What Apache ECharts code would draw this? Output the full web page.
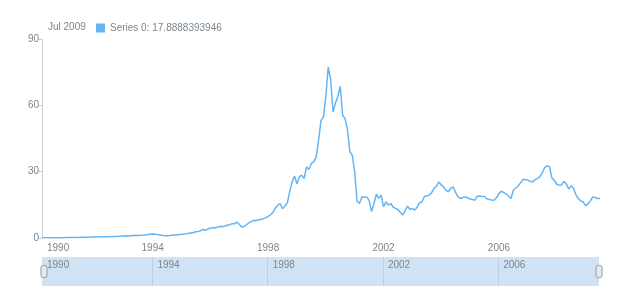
<!DOCTYPE html>
<html><head><meta charset="utf-8">
<script src="https://cdn.jsdelivr.net/npm/echarts@6/dist/echarts.min.js"></script>
<style>html,body{margin:0;padding:0;background:#fff}#c{width:620px;height:300px}</style>
</head><body><div id="c"></div>
<script>
const startYear = 1990, startMonth = 3;
const p1990 = [0.08,0.09,0.1,0.11,0.12,0.12,0.13,0.12,0.14,0.15];
const p1991 = [0.17,0.2,0.22,0.24,0.26,0.27,0.3,0.33,0.36,0.38,0.41,0.45];
const p1992 = [0.5,0.52,0.55,0.57,0.6,0.58,0.62,0.65,0.68,0.72,0.8,0.88];
const p1993 = [0.95,1.0,0.95,1.05,1.15,1.25,1.15,1.2,1.3,1.4,1.55,1.7];
const p1994 = [1.85,1.75,1.55,1.4,1.2,1.05,1.0,1.1,1.25,1.4,1.45,1.5];
const p1995 = [1.65,1.75,1.9,2.1,2.3,2.5,2.8,3.0,3.3,3.9,3.5,4.1];
const p1996 = [4.4,4.7,4.5,4.9,5.3,5.1,5.4,5.8,6.0,6.5,6.4,7.2];
const p1997 = [6.2,5.0,5.2,6.0,6.8,7.4,8.0,7.8,8.3,8.4,8.7,9.1];
const p1998 = [9.8,10.5,11.5,13.5,14.8,15.6,13.2,14.5,15.9,21.0,25.5,28.0];
const p1999 = [24.4,27.7,28.4,26.9,32.2,31.0,33.7,34.4,36.7,44.2,53.2,54.7];
const p2000 = [64,77.3,72,57,61,64,68.6,55.5,54,49,39,37.5];
const p2001 = [30,16.5,15.6,18.5,18.4,18.6,17,12,15.5,19.8,17.9,19.4];
const p2002 = [14.1,16.4,14.9,15.6,14.0,13.4,12.9,11.5,10.4,12.5,14.4,12.9];
const p2003 = [13.4,12.6,14.0,15.9,16.4,18.9,19.0,19.4,20.5,22.4,23.5,25.4];
const p2004 = [24,23.1,21.5,21.0,22.5,23.1,20.5,18.6,17.9,18.3,18.6,18.2];
const p2005 = [17.6,17.4,17.1,18.9,19.0,18.8,18.8,17.6,17.4,17.2,17.1,18.3];
const p2006 = [20.0,21.2,20.5,19.8,19.0,17.9,21.7,22.6,23.6,25.0,26.6,26.4];
const p2007 = [26.2,25.6,25.4,26.4,27.0,27.7,29.5,31.8,32.6,32.2,27.2,26.0];
const p2008 = [24.3,24.0,23.9,25.6,24.5,22.1,23.6,22.5,19.5,17.8,16.8,16.3];
const p2009 = [14.6,15.4,16.8,18.6,18.3,17.9,17.8888393946];
const tickYears = [1990, 1994, 1998, 2002, 2006];
const seriesName = 'Series 0';
const monthNames = ['Jan','Feb','Mar','Apr','May','Jun','Jul','Aug','Sep','Oct','Nov','Dec'];

const values = [].concat(p1990,p1991,p1992,p1993,p1994,p1995,p1996,p1997,p1998,p1999,
  p2000,p2001,p2002,p2003,p2004,p2005,p2006,p2007,p2008,p2009);
const categories = values.map((v, i) => {
  const t = startMonth - 1 + i;
  const y = startYear + Math.floor(t / 12);
  const m = t % 12 + 1;
  return y + '-' + String(m).padStart(2, '0');
});
const lastCat = categories[categories.length - 1];
const lastValue = values[values.length - 1];
const titleText = monthNames[+lastCat.slice(5) - 1] + ' ' + lastCat.slice(0, 4);

const isTick = (idx, val) => {
  const [y, m] = val.split('-');
  return m === '01' && tickYears.includes(+y);
};
const textColor = '#7c868e';
const font = 'Liberation Sans';
const lineColor = '#64b5f6';

const chart = echarts.init(document.getElementById('c'), null, {renderer: 'canvas'});
chart.setOption({
  animation: false,
  textStyle: {fontFamily: font},
  title: {text: titleText, left: 48, top: 22, padding: 0,
    textStyle: {fontSize: 10, fontWeight: 'normal', color: textColor, fontFamily: font}},
  legend: {left: 96, top: 23, padding: 0, itemWidth: 9, itemHeight: 9, icon: 'rect',
    data: [{name: seriesName, icon: 'rect'}],
    formatter: n => n + ': ' + lastValue,
    textStyle: {fontSize: 10, color: textColor, fontFamily: font}},
  grid: [
    {left: 42, right: 20, top: 39, bottom: 62},
    {left: 42, right: 21, top: 257, height: 29, show: true, backgroundColor: '#d1e2f5',
      borderColor: 'rgba(0,0,0,0)', borderWidth: 0}
  ],
  xAxis: [
    {type: 'category', gridIndex: 0, data: categories, boundaryGap: false,
      axisLine: {show: false}, axisTick: {show: false}, splitLine: {show: false},
      axisLabel: {
        interval: (i, v) => i === 0 || isTick(i, v),
        formatter: (v, i) => i === 0 ? '{first|' + v.slice(0, 4) + '}' : v.slice(0, 4),
        alignMinLabel: 'left',
        margin: 5, fontSize: 10, color: textColor, fontFamily: font,
        rich: {first: {padding: [0, 0, 0, 5], fontSize: 10, color: textColor, fontFamily: font}}
      }},
    {type: 'category', gridIndex: 1, data: categories, boundaryGap: false, position: 'top',
      axisLine: {show: false}, axisTick: {show: false},
      splitLine: {show: true, interval: (i, v) => isTick(i, v), lineStyle: {color: '#bfcfe2', width: 1}},
      axisLabel: {
        inside: true, interval: (i, v) => i === 0 || isTick(i, v),
        formatter: v => v.slice(0, 4), align: 'left', padding: [0, 0, 0, 5],
        margin: 3, fontSize: 10, color: textColor, fontFamily: font
      }}
  ],
  yAxis: [
    {type: 'value', gridIndex: 0, min: 0, max: 90, interval: 30,
      axisLine: {show: true, lineStyle: {color: '#cfcfcf'}},
      axisTick: {show: true, length: 4, lineStyle: {color: '#cfcfcf'}},
      splitLine: {show: false},
      axisLabel: {margin: 3, fontSize: 10, color: textColor, fontFamily: font}},
    {type: 'value', gridIndex: 1, show: false, min: 0, max: 1}
  ],
  dataZoom: [{
    type: 'slider', xAxisIndex: 0, left: 42, right: 21, top: 257, height: 29,
    start: 0, end: 100, showDetail: false, showDataShadow: false, brushSelect: false,
    backgroundColor: 'rgba(0,0,0,0)', borderColor: 'rgba(0,0,0,0)', fillerColor: 'rgba(0,0,0,0)',
    moveHandleSize: 0,
    handleIcon: 'path://M3,0 h2 a3,3 0 0 1 3,3 v10 a3,3 0 0 1 -3,3 h-2 a3,3 0 0 1 -3,-3 v-10 a3,3 0 0 1 3,-3 z',
    handleSize: '42%',
    handleStyle: {color: '#e8e8e8', borderColor: '#9a9a9a', borderWidth: 1}
  }],
  series: [{
    type: 'line', name: seriesName, data: values, xAxisIndex: 0, yAxisIndex: 0,
    showSymbol: false, symbol: 'none',
    lineStyle: {color: lineColor, width: 1.5}, itemStyle: {color: lineColor}
  }]
});
</script>
</body></html>
